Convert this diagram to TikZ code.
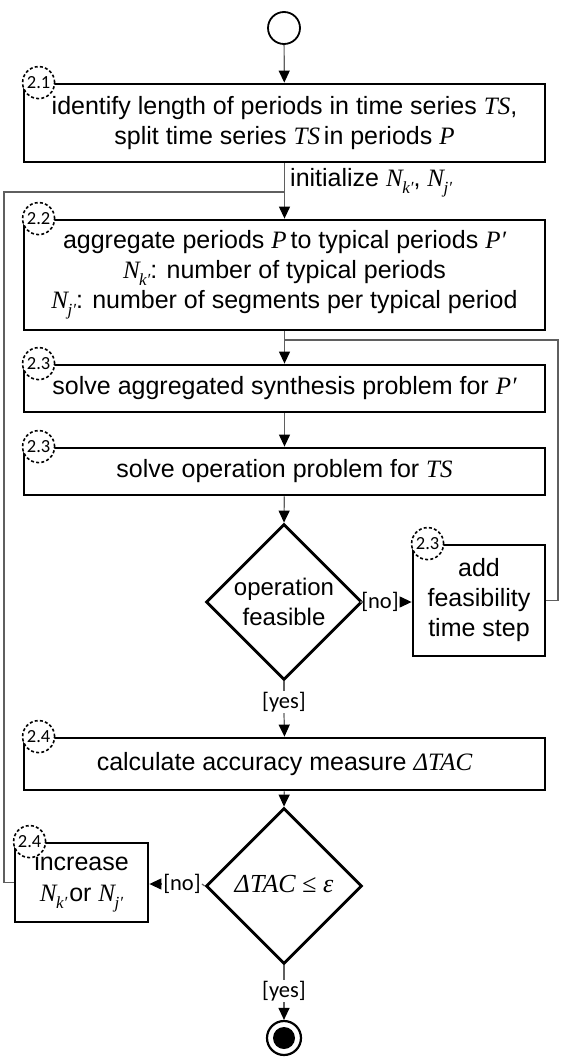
\documentclass[tikz,border=0pt]{standalone}
\usepackage{fontspec}
\setmainfont{Liberation Sans}
\newfontfamily\serifrm{Liberation Serif}
\newfontfamily\carl{Carlito}
\usetikzlibrary{shapes.geometric,arrows.meta}
\newcommand{\mv}[1]{{\serifrm\itshape #1}}
\newcommand{\Nsub}[1]{\mv{N}\kern-0.5pt\raisebox{-0.28em}{\fontsize{17pt}{17pt}\selectfont\mv{#1}}}
\tikzset{
  box/.style={draw, line width=2.8pt, fill=white, inner sep=0pt, align=center,
              font=\fontsize{25pt}{30pt}\selectfont},
  num/.style={circle, draw, dash pattern=on 3pt off 2.2pt, line width=1.6pt, fill=white,
              minimum size=32pt, inner sep=0pt, font=\carl\fontsize{18.5pt}{18.5pt}\selectfont},
  dia/.style={diamond, draw, line width=2.8pt, minimum width=156pt, minimum height=156pt,
              inner sep=0pt},
  txt/.style={align=center, inner sep=0pt, font=\fontsize{25pt}{30pt}\selectfont},
  con/.style={draw={rgb,255:red,95;green,95;blue,95}, line width=1.2pt},
  arr/.style={con, -{Triangle[length=12pt,width=11pt,color=black]}},
  lab/.style={inner sep=1pt, font=\carl\fontsize{22.5pt}{22.5pt}\selectfont},
}
\begin{document}
\begin{tikzpicture}[x=1pt,y=-1pt]
\useasboundingbox (0,0) rectangle (561,1057);
% start and end
\node[circle, draw, line width=1.8pt, minimum size=32pt, inner sep=0pt] (start) at (284,28) {};
\node[circle, draw, line width=2.2pt, minimum size=34pt, inner sep=0pt] (end) at (284,1038) {};
\node[circle, fill=black, minimum size=22pt, inner sep=0pt] (endin) at (end) {};
% boxes
\node[box, minimum width=521pt, minimum height=78pt] (b21) at (284.5,123)
  {identify length of periods in time series \mv{TS},\\ split time series \mv{TS}\kern-3pt\ in periods \mv{P}};
\node[box, minimum width=521pt, minimum height=110pt] (b22) at (284.5,275)
  {aggregate periods \mv{P}\kern-3pt\ to typical periods \mv{P′}\\
   \Nsub{k′}: number of typical periods\\
   \Nsub{j′}: number of segments per typical period};
\node[box, minimum width=521pt, minimum height=47pt] (b23a) at (284.5,388.5)
  {solve aggregated synthesis problem for \mv{P′}};
\node[box, minimum width=521pt, minimum height=47pt] (b23b) at (284.5,471.5)
  {solve operation problem for \mv{TS}};
\node[dia] (d1) at (284,602) {};
\node[txt, font=\fontsize{24pt}{30pt}\selectfont] (d1t) at (284,602) {operation\\feasible};
\node[box, minimum width=132pt, minimum height=111pt] (add) at (479,600.5)
  {add\\feasibility\\time step};
\node[box, minimum width=521pt, minimum height=52pt] (b24) at (284.5,764)
  {calculate accuracy measure \mv{ΔTAC}};
\node[dia] (d2) at (284,886) {};
\node[txt, font=\serifrm\itshape\fontsize{26pt}{30pt}\selectfont] (d2t) at (284,884) {ΔTAC ≤ ε};
\node[box, minimum width=133pt, minimum height=79pt] (inc) at (81.5,882.5)
  {increase\\[1pt]\Nsub{k′}\kern2pt or \Nsub{j′}};
% step numbers
\node[num] (n21) at ([xshift=16pt]b21.north west) {2.1};
\node[num] (n22) at ([xshift=16pt]b22.north west) {2.2};
\node[num] (n23a) at ([xshift=16pt]b23a.north west) {2.3};
\node[num] (n23b) at ([xshift=16pt]b23b.north west) {2.3};
\node[num] (n23c) at ([xshift=16pt]add.north west) {2.3};
\node[num] (n24) at ([xshift=16pt]b24.north west) {2.4};
\node[num] (n24b) at ([xshift=16pt]inc.north west) {2.4};
% labels
\node[txt, anchor=west] (init) at (290,183) {initialize \Nsub{k′}, \Nsub{j′}};
\node[lab] (no1) at (380,602) {[no]};
\node[lab] (yes1) at (284,702) {[yes]};
\node[lab] (no2) at (182,884) {[no]};
\node[lab] (yes2) at (284,991) {[yes]};
% join coordinates
\coordinate (j1) at (284,192);
\coordinate (j2) at (284,340);
\coordinate (l1) at (4,882.5);
\coordinate (l2) at (4,192);
\coordinate (r1) at (558,600.5);
\coordinate (r2) at (558,340);
% connectors
\draw[arr] (start) -- (b21);
\draw[arr] (b21) -- (b22);
\draw[con] (inc.west) -- (l1) -- (l2) -- (j1);
\draw[arr] (b22) -- (b23a);
\draw[con] (add.east) -- (r1) -- (r2) -- (j2);
\draw[arr] (b23a) -- (b23b);
\draw[arr] (b23b) -- (d1.north);
\draw[con] (d1.east) -- (no1.west);
\draw[arr] (no1.east) -- (add.west |- no1.east);
\draw[con] (d1.south) -- (yes1.north);
\draw[arr] (yes1.south) -- (b24.north);
\draw[arr] (b24) -- (d2.north);
\draw[con] (d2.west) -- (no2.east);
\draw[arr] (no2.west) -- (inc.east |- no2.west);
\draw[con] (d2.south) -- (yes2.north);
\draw[arr] (yes2.south) -- (end.north);
\end{tikzpicture}
\end{document}
